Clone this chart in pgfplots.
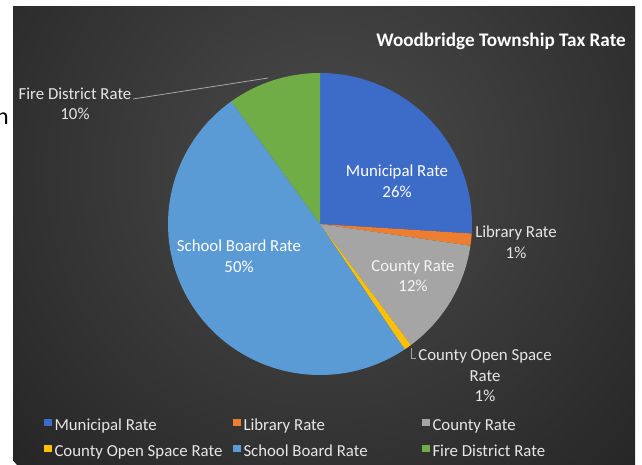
\documentclass[border=0pt]{standalone}
\usepackage{fontspec}
\setmainfont{Carlito}
\usepackage{pgfplots}
\pgfplotsset{compat=1.18}
\definecolor{bgin}{HTML}{4B4B4B}
\definecolor{bgout}{HTML}{262626}
\definecolor{cMun}{HTML}{3D6BC8}
\definecolor{cLib}{HTML}{ED7D31}
\definecolor{cCou}{HTML}{A5A5A5}
\definecolor{cOpe}{HTML}{FFC000}
\definecolor{cSch}{HTML}{5B9BD5}
\definecolor{cFir}{HTML}{70AD47}
\definecolor{lbltext}{HTML}{E6E6E6}
\definecolor{leader}{HTML}{A6A6A6}

% shares of the tax rate (percent)
\def\vMun{26.0}
\def\vLib{1.3}
\def\vCou{12.5}
\def\vOpe{0.8}
\def\vSch{49.5}
\def\vFir{9.9}
\pgfmathsetmacro\aA{90}
\pgfmathsetmacro\aB{\aA-3.6*\vMun}
\pgfmathsetmacro\aC{\aB-3.6*\vLib}
\pgfmathsetmacro\aD{\aC-3.6*\vCou}
\pgfmathsetmacro\aE{\aD-3.6*\vOpe}
\pgfmathsetmacro\aF{\aE-3.6*\vSch}
\pgfmathsetmacro\aG{\aF-3.6*\vFir}

\begin{document}
\begin{tikzpicture}[x=1bp,y=1bp,
  lbl/.style={font=\fontsize{16.8bp}{20bp}\selectfont, text=lbltext, inner sep=0pt, anchor=base}]
\useasboundingbox (0,0) rectangle (642,-465);
\fill[white] (0,0) rectangle (642,-465);
\begin{scope}
\clip (13,-6.5) rectangle (635,-465);
\shade[inner color=bgin, outer color=bgout] (330,-170) circle (430);
\end{scope}
\node[anchor=base east, inner sep=0pt, font=\fontsize{24bp}{28bp}\selectfont, text=black] at (9,-125) {n};

\begin{axis}[at={(168bp,-375bp)}, anchor=south west, scale only axis,
  width=304bp, height=302bp, xmin=-1, xmax=1, ymin=-1, ymax=1,
  hide axis, clip=false,
  legend columns=3, legend cell align=left,
  legend image code/.code={\fill[#1] (0bp,-0.5bp) rectangle (7.5bp,7bp);},
  legend style={draw=none, fill=none,
    at={(axis description cs:-0.40789,-0.13907)}, anchor=north west,
    inner sep=0pt, outer sep=0pt, row sep=9bp,
    font=\fontsize{16.8bp}{20bp}\selectfont, text=lbltext,
    nodes={inner xsep=3bp, inner ysep=0pt, text height=13bp, text depth=4bp},
    /tikz/every even column/.style={column sep=0pt}},
]
\addplot[fill=cMun, draw=none, domain=\aB:\aA, samples=61, variable=\t] ({cos(\t)},{sin(\t)}) -- (axis cs:0,0) -- cycle;
\addlegendentry{\makebox[175.5bp][l]{Municipal Rate}}
\addplot[fill=cLib, draw=none, domain=\aC:\aB, samples=5, variable=\t] ({cos(\t)},{sin(\t)}) -- (axis cs:0,0) -- cycle;
\addlegendentry{\makebox[175.5bp][l]{Library Rate}}
\addplot[fill=cCou, draw=none, domain=\aD:\aC, samples=31, variable=\t] ({cos(\t)},{sin(\t)}) -- (axis cs:0,0) -- cycle;
\addlegendentry{\makebox[175.5bp][l]{County Rate}}
\addplot[fill=cOpe, draw=none, domain=\aE:\aD, samples=5, variable=\t] ({cos(\t)},{sin(\t)}) -- (axis cs:0,0) -- cycle;
\addlegendentry{\makebox[175.5bp][l]{County Open Space Rate}}
\addplot[fill=cSch, draw=none, domain=\aF:\aE, samples=101, variable=\t] ({cos(\t)},{sin(\t)}) -- (axis cs:0,0) -- cycle;
\addlegendentry{\makebox[175.5bp][l]{School Board Rate}}
\addplot[fill=cFir, draw=none, domain=\aG:\aF, samples=25, variable=\t] ({cos(\t)},{sin(\t)}) -- (axis cs:0,0) -- cycle;
\addlegendentry{\makebox[175.5bp][l]{Fire District Rate}}
\end{axis}

% title
\node[anchor=base east, inner sep=0pt, text=white, font=\fontsize{19.2bp}{22bp}\selectfont\bfseries] at (626,-47) {Woodbridge Township Tax Rate};

% data labels
\node[lbl, text=white] at (397,-177) {Municipal Rate};
\node[lbl, text=white] at (397,-198) {26\%};
\node[lbl, text=white!92!gray] at (413,-272) {County Rate};
\node[lbl, text=white!92!gray] at (413,-292) {12\%};
\node[lbl, text=white] at (239,-252) {School Board Rate};
\node[lbl, text=white] at (239,-273) {50\%};
\node[lbl] at (516,-238) {Library Rate};
\node[lbl] at (516,-259) {1\%};
\node[lbl] at (485,-360) {County Open Space};
\node[lbl] at (485,-381) {Rate};
\node[lbl] at (485,-401) {1\%};
\node[lbl] at (75,-100) {Fire District Rate};
\node[lbl] at (75,-120) {10\%};

% leader lines
\draw[leader, line width=0.8bp] (133,-99) -- (268,-78);
\draw[leader, line width=0.8bp] (411.5,-348) -- (411.5,-358) -- (415.5,-358);
\end{tikzpicture}
\end{document}
